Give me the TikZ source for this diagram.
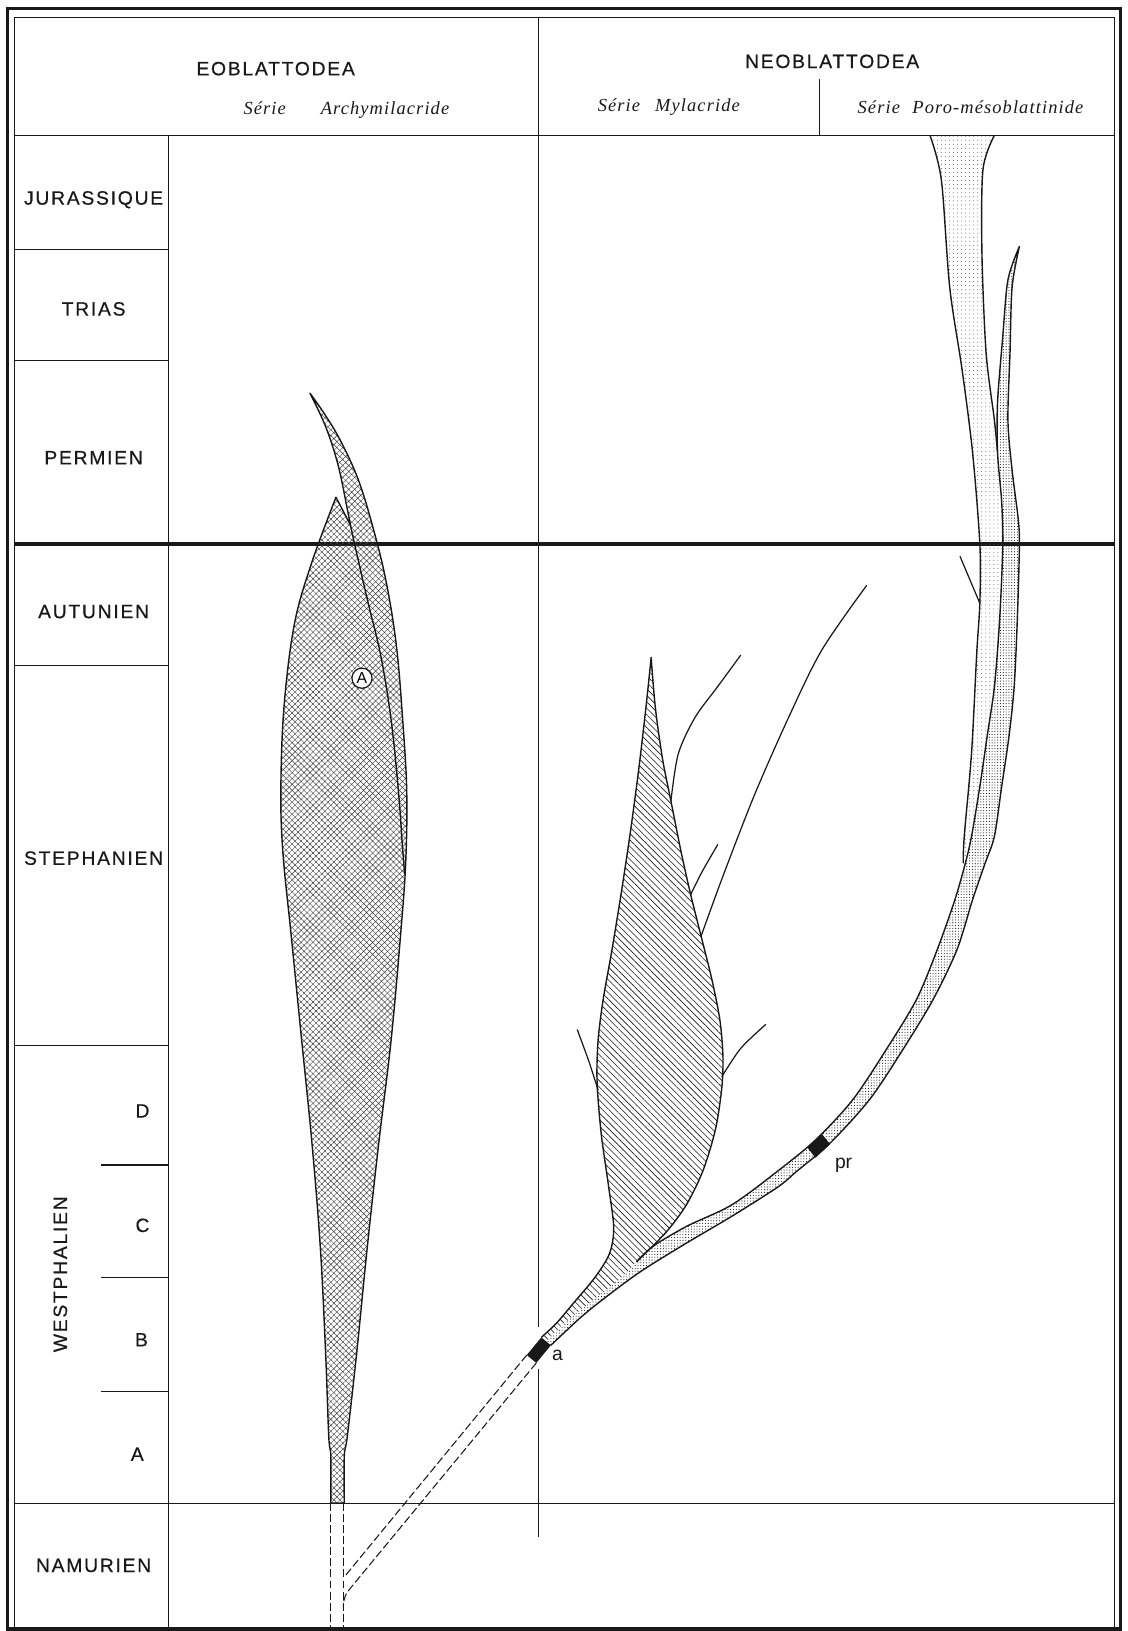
\documentclass[tikz,border=0pt]{standalone}
\usepackage{fontspec}
\usepackage{tikz}
\usetikzlibrary{patterns.meta}
\newfontfamily\leroy[LetterSpace=9,FakeBold=0.5]{Liberation Sans}
\newfontfamily\plainsans{Liberation Sans}
\newfontfamily\serie[LetterSpace=6]{Liberation Serif}
\definecolor{ink}{RGB}{25,25,25}
\tikzset{
  eralabel/.style={font=\leroy\fontsize{11}{13}\selectfont, text=ink},
  serielabel/.style={font=\serie\itshape\fontsize{10.5}{12}\selectfont, text=ink},
  thinrule/.style={draw=ink, line width=0.6pt},
  shapeline/.style={draw=ink, line width=0.8pt, line join=round},
  stemdash/.style={draw=ink, line width=0.6pt, dash pattern=on 4.5pt off 1.8pt},
  twigline/.style={draw=ink, line width=0.7pt, line cap=round},
  archyfill/.style={pattern={Hatch[angle=45,distance=2.4pt,line width=0.25pt]}, pattern color=ink!85},
  mylafill/.style={pattern={Lines[angle=-45,distance=2.6pt,line width=0.35pt]}, pattern color=ink},
  darkdots/.style={pattern={Dots[distance=1.6pt,radius=0.32pt]}, pattern color=ink},
  lightdots/.style={pattern={Dots[distance=2.3pt,radius=0.28pt]}, pattern color=ink!70}
}

\begin{document}
\begin{tikzpicture}[x=0.020812cm, y=-0.020812cm]
\useasboundingbox (0,0) rectangle (1084,1568);
\draw[ink, line width=2pt] (7,8) rectangle (1077,1566);
\draw[thinrule] (14,17) rectangle (1071,1566);
\draw[thinrule] (14,130) -- (1071,130);
\draw[thinrule] (518,17) -- (518,130);
\draw[thinrule] (788,76) -- (788,130);
\draw[thinrule] (162,130) -- (162,1566);
\draw[thinrule] (518,130) -- (518,1276);
\draw[thinrule] (518,1316) -- (518,1478);
\foreach \y in {240,347,640,1005}
  \draw[thinrule] (14,\y) -- (162,\y);
\foreach \y in {1120,1228,1338}
  \draw[thinrule] (97,\y) -- (162,\y);
\draw[ink, line width=2.6pt] (14,523) -- (1071,523);
\draw[thinrule] (14,1445) -- (1071,1445);

\node[eralabel] (eoblattodea) at (265,66) {EOBLATTODEA};
\node[serielabel] (archymilacride) at (333,106) {Série\hspace{0.7cm}Archymilacride};
\node[eralabel] (neoblattodea) at (800,59) {NEOBLATTODEA};
\node[serielabel] (mylacride) at (643,103) {Série\hspace{0.3cm}Mylacride};
\node[serielabel] (poro) at (933,103) {Série\hspace{0.25cm}Poro-mésoblattinide};

\foreach \era/\y in {JURASSIQUE/192, TRIAS/297, PERMIEN/440, AUTUNIEN/588, STEPHANIEN/825, NAMURIEN/1505}
  \node[eralabel] (\era) at (90,\y) {\era};
\node[eralabel, rotate=90] (westphalien) at (58,1225) {WESTPHALIEN};
\foreach \sub/\x/\y in {D/137/1068, C/137/1178, B/136/1288, A/132/1398}
  \node[eralabel] (west\sub) at (\x,\y) {\sub};

\path[darkdots]
  plot[smooth, tension=0.5] coordinates {(529.6,1293.3) (560,1265) (589,1242) (618,1221) (660,1195) (704,1169) (748,1141) (766,1126) (798,1099) (836,1057) (868,1009) (897,961) (920,913) (935,865) (947,830) (956,804) (963,756) (970,708) (975,660) (978,596) (980,526) (979,500) (973,452) (969,404) (971,339) (973,276) (980,237)}
  -- plot[smooth, tension=0.5] coordinates {(980,237) (969,269) (964,324) (959,387) (959,435) (963,483) (964,526) (961,596) (956,660) (949,708) (942,756) (934,804) (928,830) (918,865) (901,913) (881,961) (852,1009) (820,1057) (785,1095) (750,1124) (704,1158) (660,1179) (628,1198) (612,1213)}
  -- plot[smooth, tension=0.5] coordinates {(612,1213) (595,1230) (570,1250) (545,1270) (525,1289.5)}
  -- cycle;
\path[lightdots]
  plot[smooth, tension=0.5] coordinates {(894,130) (905,173) (913,276) (925,356) (935,435) (942,523) (942,579) (939,628) (934,724) (927,804) (926,830)}
  -- plot[smooth, tension=0.5] coordinates {(926,830) (934,804) (942,756) (949,708) (956,660) (961,596) (964,526) (963,483) (959,435)}
  -- plot[smooth, tension=0.5] coordinates {(959,435) (956,404) (948,339) (944,243) (945,163) (956,130)}
  -- cycle;
\path[mylafill]
  plot[smooth, tension=0.5] coordinates {(520.4,1285.7) (535,1272) (552,1252) (572,1228) (586,1205) (590,1180) (585,1140) (578,1090) (574,1040) (575,1000) (580,960) (588,915) (597,860) (606,800) (614,740) (621,680) (626,632)}
  -- plot[smooth, tension=0.5] coordinates {(626,632) (630,680) (637,730) (645,770) (655,820) (664,860) (674,900) (684,940) (692,980) (695,1015) (694,1045) (688,1085) (676,1125) (660,1158) (640,1185) (612,1213)}
  -- plot[smooth, tension=0.5] coordinates {(612,1213) (595,1230) (570,1250) (545,1270) (525,1289.5)}
  -- cycle;

\draw[shapeline]
  plot[smooth, tension=0.5] coordinates {(529.6,1293.3) (560,1265) (589,1242) (618,1221) (660,1195) (704,1169) (748,1141) (766,1126) (798,1099) (836,1057) (868,1009) (897,961) (920,913) (935,865) (947,830) (956,804) (963,756) (970,708) (975,660) (978,596) (980,526) (979,500) (973,452) (969,404) (971,339) (973,276) (980,237)}
  -- plot[smooth, tension=0.5] coordinates {(980,237) (969,269) (964,324) (959,387) (959,435) (963,483) (964,526) (961,596) (956,660) (949,708) (942,756) (934,804) (928,830) (918,865) (901,913) (881,961) (852,1009) (820,1057) (785,1095) (750,1124) (704,1158) (660,1179) (628,1198) (612,1213)};
\draw[shapeline]
  plot[smooth, tension=0.5] coordinates {(894,130) (905,173) (913,276) (925,356) (935,435) (942,523) (942,579) (939,628) (934,724) (927,804) (926,830)};
\draw[shapeline]
  plot[smooth, tension=0.5] coordinates {(956,130) (945,163) (944,243) (948,339) (956,404) (959,435)};
\draw[shapeline]
  plot[smooth, tension=0.5] coordinates {(520.4,1285.7) (535,1272) (552,1252) (572,1228) (586,1205) (590,1180) (585,1140) (578,1090) (574,1040) (575,1000) (580,960) (588,915) (597,860) (606,800) (614,740) (621,680) (626,632)}
  -- plot[smooth, tension=0.5] coordinates {(626,632) (630,680) (637,730) (645,770) (655,820) (664,860) (674,900) (684,940) (692,980) (695,1015) (694,1045) (688,1085) (676,1125) (660,1158) (640,1185) (612,1213)};

\draw[twigline] plot[smooth] coordinates {(645,770) (652,725) (668,690) (690,660) (712,630)};
\draw[twigline] plot[smooth] coordinates {(664,860) (675,838) (690,812)};
\draw[twigline] plot[smooth] coordinates {(674,900) (694,845) (725,765) (758,690) (790,625) (833,563)};
\draw[twigline] plot[smooth] coordinates {(694,1035) (712,1008) (736,985)};
\draw[twigline] plot[smooth] coordinates {(575,1048) (566,1020) (555,990)};
\draw[twigline] (923,535) -- (942,580);

\draw[shapeline, archyfill]
  plot[smooth, tension=0.6] coordinates {(318,1445) (318,1400) (316,1380) (313,1300) (308,1200) (300,1100) (290,1000) (280,900) (272,820) (270,760) (273,680) (283,600) (300,540) (323,478)}
  -- (337,505)
  -- plot[smooth, tension=0.6] coordinates {(337,505) (334,490) (325,447) (313,410) (298,378)}
  -- plot[smooth, tension=0.6] coordinates {(298,378) (312,398) (327,423) (344,460) (358,505) (371,558) (381,620) (387,690) (391,760) (390,830) (385,900) (376,1000) (364,1100) (353,1200) (343,1300) (334,1380) (331,1400) (331,1445)}
  -- cycle;
\draw[shapeline] plot[smooth, tension=0.6] coordinates {(337,505) (342,528) (354,580) (366,630) (376,692) (383,760) (387,815) (389,840)};
\node[circle, draw=ink, fill=white, line width=0.7pt, inner sep=1pt, font=\plainsans\small] (circA) at (348,652) {A};

\coordinate (atl) at (520.4,1285.7);
\coordinate (atr) at (529.6,1293.3);
\coordinate (abr) at (515.6,1310.3);
\coordinate (abl) at (506.4,1302.7);
\fill[ink] (atl) -- (atr) -- (abr) -- (abl) -- cycle;
\fill[ink] (776,1103) -- (790,1090) -- (798,1100) -- (784,1113) -- cycle;
\draw[stemdash] (abl) -- (331,1516);
\draw[stemdash] (abr) -- (340,1523) .. controls (331,1534) .. (330,1545);
\draw[stemdash] (318,1445) -- (318,1566);
\draw[stemdash] (330,1445) -- (330,1566);

\node[font=\plainsans\fontsize{11}{13}\selectfont, text=ink] (labela) at (536,1303) {a};
\node[font=\plainsans\fontsize{11}{13}\selectfont, text=ink] (labelpr) at (811,1120) {pr};
\end{tikzpicture}
\end{document}
